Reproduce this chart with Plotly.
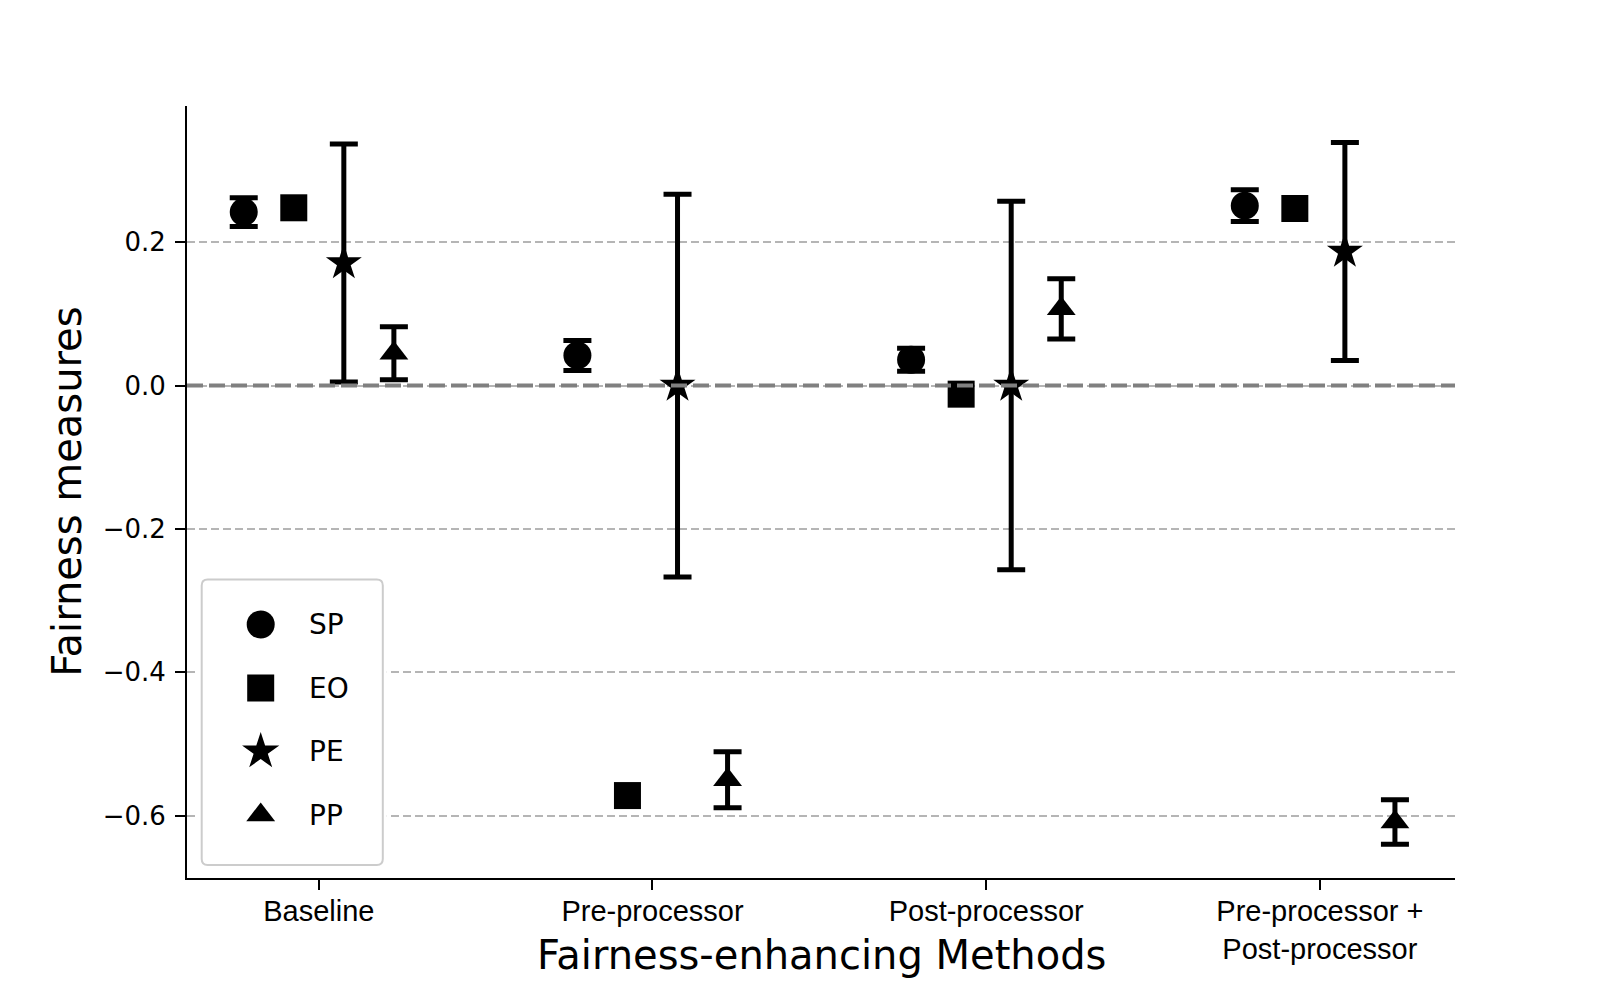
import plotly.graph_objects as go

# ---------------- data ----------------
categories = ["Baseline", "Pre-processor", "Post-processor", "Pre-processor +<br>Post-processor"]
series = ["SP", "EO", "PE", "PP"]

sp_vals = [0.242, 0.042, 0.036, 0.251]
sp_err = [0.020, 0.021, 0.016, 0.022]
eo_vals = [0.248, -0.572, -0.012, 0.247]
pe_vals = [0.171, 0.000, 0.000, 0.187]
pe_err = [0.166, 0.267, 0.257, 0.152]
pp_vals = [0.045, -0.550, 0.107, -0.609]
pp_err = [0.037, 0.039, 0.042, 0.031]

y_ticks = [-0.6, -0.4, -0.2, 0.0, 0.2]
y_tick_labels = ["\u22120.6", "\u22120.4", "\u22120.2", "0.0", "0.2"]

x_title = "Fairness-enhancing Methods"
y_title = "Fairness measures"

# ---------------- geometry (window px; page body has an 8px margin) ----------------
OFF = 8
W, H = 1605 - 2 * OFF, 1004 - 2 * OFF
ML, MT = 187 - OFF, 106 - OFF
PW, PH = 1268, 772
MR, MB = W - ML - PW, H - MT - PH


def px_x(xw):
    return (xw - OFF - ML) / PW


def px_y(yw):
    return (OFF + MT + PH - yw) / PH


symbols = {"SP": "circle", "EO": "square", "PE": "star", "PP": "triangle-up"}
sizes = {"SP": 28, "EO": 27, "PE": 27, "PP": 25}
values = {"SP": sp_vals, "EO": eo_vals, "PE": pe_vals, "PP": pp_vals}
errors = {"SP": sp_err, "EO": None, "PE": pe_err, "PP": pp_err}

step = 0.15
n = len(series)

fig = go.Figure()
for k, name in enumerate(series):
    off = (k - (n - 1) / 2) * step
    xs = [i + off for i in range(len(categories))]
    err = errors[name]
    fig.add_trace(go.Scatter(
        x=xs, y=values[name], mode="markers", name=name, showlegend=False,
        marker=dict(symbol=symbols[name], size=sizes[name], color="black",
                    line=dict(width=0)),
        error_y=(dict(type="data", array=err, visible=True, color="black",
                      thickness=5, width=14) if err is not None else dict(visible=False)),
        xaxis="x", yaxis="y",
    ))

# ---------------- custom legend (inset axes in window-pixel units) ----------------
bx0, bx1, by0, by1 = 201.7, 382.8, 579.4, 865.0   # legend frame
pad = 4
ix0, ix1, iy0, iy1 = bx0 - pad, bx1 + pad, by0 - pad, by1 + pad
leg_marker_x, leg_text_x = 260.7, 309.0
row0, row_step = 624.5, 63.5
leg_sizes = {"SP": 28, "EO": 27, "PE": 28, "PP": 25}

for k, name in enumerate(series):
    fig.add_trace(go.Scatter(
        x=[leg_marker_x], y=[row0 + k * row_step], mode="markers", showlegend=False,
        marker=dict(symbol=symbols[name], size=leg_sizes[name], color="black", line=dict(width=0)),
        xaxis="x2", yaxis="y2", hoverinfo="skip",
    ))
fig.add_trace(go.Scatter(
    x=[leg_text_x] * n, y=[row0 + k * row_step + 3 for k in range(n)], mode="text",
    text=series, textposition="middle right", showlegend=False,
    textfont=dict(family="DejaVu Sans", size=28, color="black"),
    xaxis="x2", yaxis="y2", hoverinfo="skip",
))

r = 6
path = (f"M {bx0 + r},{by0} L {bx1 - r},{by0} Q {bx1},{by0} {bx1},{by0 + r} "
        f"L {bx1},{by1 - r} Q {bx1},{by1} {bx1 - r},{by1} L {bx0 + r},{by1} "
        f"Q {bx0},{by1} {bx0},{by1 - r} L {bx0},{by0 + r} Q {bx0},{by0} {bx0 + r},{by0} Z")
fig.add_shape(type="path", path=path, xref="x2", yref="y2", layer="between",
              line=dict(color="#cccccc", width=2), fillcolor="rgba(255,255,255,0.8)")

# zero reference line
fig.add_shape(type="line", xref="paper", x0=0, x1=1, yref="y", y0=0, y1=0, layer="above",
              line=dict(color="#808080", width=4, dash="16px,6px"))

# titles
fig.add_annotation(text=x_title, xref="paper", yref="paper", x=0.5, y=px_y(955.0),
                   xanchor="center", yanchor="middle", showarrow=False,
                   font=dict(family="DejaVu Sans", size=40, color="black"))
fig.add_annotation(text=y_title, xref="paper", yref="paper", x=px_x(66.8), y=0.5,
                   textangle=-90, xanchor="center", yanchor="middle", showarrow=False,
                   font=dict(family="DejaVu Sans", size=40, color="black"))

fig.update_layout(
    width=W, height=H, autosize=False,
    margin=dict(l=ML, r=MR, t=MT, b=MB, pad=0),
    paper_bgcolor="white", plot_bgcolor="white",
    showlegend=False,
    xaxis=dict(
        range=[-0.395, 3.405], tickvals=list(range(len(categories))), ticktext=categories,
        showgrid=False, zeroline=False, showline=True, linecolor="black", linewidth=2,
        ticks="outside", ticklen=10, tickwidth=1.5, tickcolor="black",
        ticklabelstandoff=-4,
        tickfont=dict(family="Liberation Sans", size=29, color="black"),
    ),
    yaxis=dict(
        range=[-0.687, 0.390], tickvals=y_ticks, ticktext=y_tick_labels,
        showgrid=True, gridcolor="#b5b5b5", gridwidth=1.5, griddash="8px,4px",
        zeroline=False, showline=True, linecolor="black", linewidth=2,
        ticks="outside", ticklen=10, tickwidth=2, tickcolor="black",
        ticklabelstandoff=4,
        tickfont=dict(family="DejaVu Sans", size=26, color="black"),
    ),
    xaxis2=dict(domain=[px_x(ix0), px_x(ix1)], range=[ix0, ix1], anchor="y2",
                visible=False, fixedrange=True),
    yaxis2=dict(domain=[px_y(iy1), px_y(iy0)], range=[iy1, iy0], anchor="x2",
                visible=False, fixedrange=True),
)

fig.write_html("out.html")
